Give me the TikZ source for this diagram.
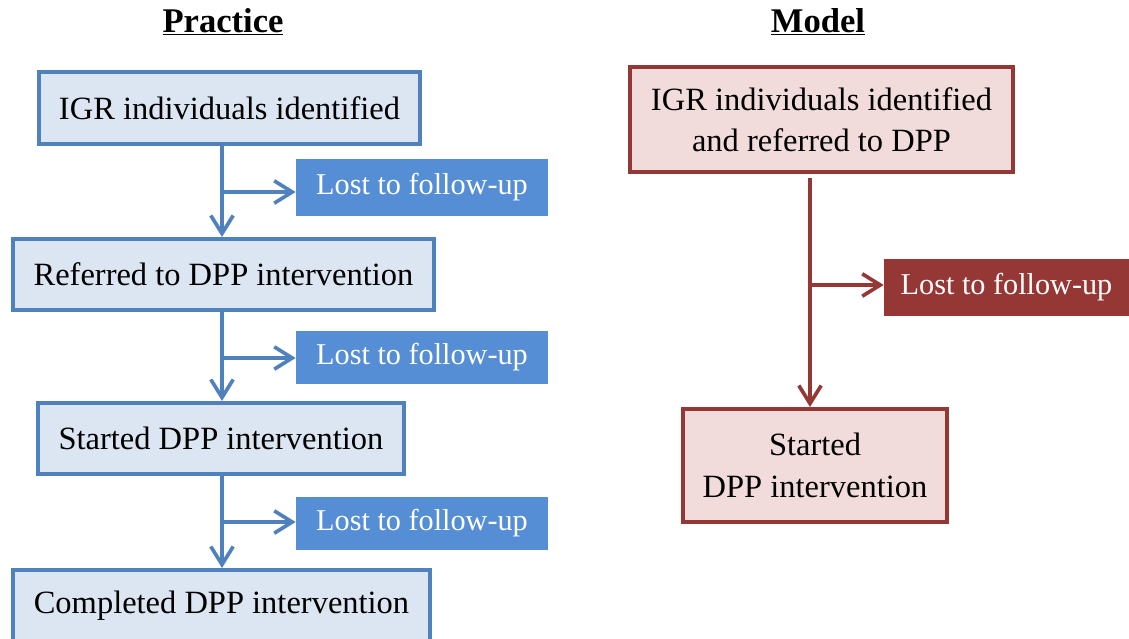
\documentclass[tikz,border=0pt]{standalone}
\usepackage{fontspec}
\setmainfont{Liberation Serif}
\usetikzlibrary{arrows.meta,positioning}
\definecolor{pblue}{HTML}{4F81BD}
\definecolor{pbluefill}{HTML}{DCE6F2}
\definecolor{plost}{HTML}{558ED5}
\definecolor{mred}{HTML}{953735}
\definecolor{mredfill}{HTML}{F2DCDB}

\begin{document}
\begin{tikzpicture}[x=0.025cm,y=-0.025cm,
  >={Straight Barb[length=0.45cm,width=0.56cm]},
  stepbox/.style={draw=#1,line width=2.9pt,inner sep=0pt,align=center,
    font=\fontsize{23.1}{29.5}\selectfont},
  lostbox/.style={fill=#1,text=white,inner sep=0pt,minimum width=6.3cm,
    font=\fontsize{21.5}{28}\selectfont},
  flow/.style={draw=#1,line width=2.6pt,->}]
\clip (0,0) rectangle (1129,638);
% headings
\node[font=\fontsize{24.6}{29}\selectfont\bfseries] (tp) at (223,22) {\underline{Practice}};
\node[font=\fontsize{24.6}{29}\selectfont\bfseries] (tm) at (818,22) {\underline{Model}};
% practice
\node[stepbox=pblue,fill=pbluefill,minimum width=9.525cm,minimum height=1.8cm] (p0) at (229.5,108) {IGR individuals identified};
\node[stepbox=pblue,fill=pbluefill,minimum width=10.525cm,minimum height=1.775cm] (p1) at (223.5,274.5) {Referred to DPP intervention};
\node[stepbox=pblue,fill=pbluefill,minimum width=9.15cm,minimum height=1.775cm] (p2) at (221,438.5) {Started DPP intervention};
\node[stepbox=pblue,fill=pbluefill,minimum width=10.425cm,minimum height=1.775cm] (p3) at (221.5,605.5) {Completed DPP intervention};
\node[lostbox=plost,minimum height=1.425cm] (l0) at (422,187.5) {Lost to follow-up};
\node[lostbox=plost,minimum height=1.325cm] (l1) at (422,357.5) {Lost to follow-up};
\node[lostbox=plost,minimum height=1.325cm] (l2) at (422,523.5) {Lost to follow-up};
\coordinate (j0) at (222,192);
\coordinate (j1) at (222,358);
\coordinate (j2) at (222,522);
\draw[flow=pblue] (p0.south -| j0) -- (p1.north -| j0);
\draw[flow=pblue] (p1.south -| j1) -- (p2.north -| j1);
\draw[flow=pblue] (p2.south -| j2) -- (p3.north -| j2);
\draw[flow=pblue] (j0) -- (l0.west |- j0);
\draw[flow=pblue] (j1) -- (l1.west |- j1);
\draw[flow=pblue] (j2) -- (l2.west |- j2);
% model
\node[stepbox=mred,fill=mredfill,minimum width=9.575cm,minimum height=2.625cm] (m0) at (821.5,119.5) {IGR individuals identified\\and referred to DPP};
\node[stepbox=mred,fill=mredfill,minimum width=6.6cm,minimum height=2.825cm] (m1) at (815,465.5) {Started\\DPP intervention};
\node[lostbox=mred,minimum width=6.125cm,minimum height=1.425cm] (lm) at (1006.5,287.5) {Lost to follow-up};
\coordinate (jm) at (810,285);
\draw[flow=mred] (m0.south -| jm) ++(0,4) -- (m1.north -| jm);
\draw[flow=mred] (jm) -- (lm.west |- jm);
\end{tikzpicture}
\end{document}
